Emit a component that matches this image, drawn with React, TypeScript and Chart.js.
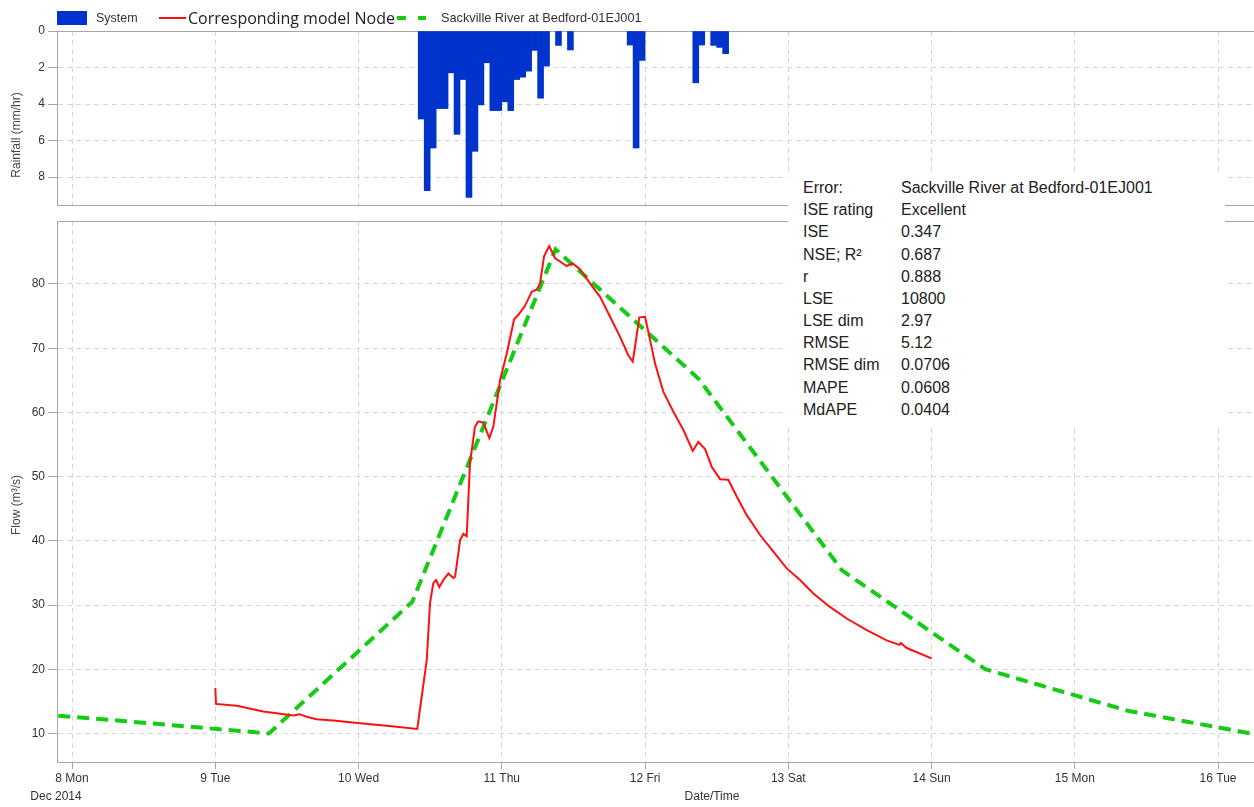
import React, { useEffect, useRef } from "react";
import { Chart, registerables } from "chart.js";

Chart.register(...registerables);

// ---- axis ticks ----
const dayTicks = [8, 9, 10, 11, 12, 13, 14, 15, 16];
const dayNames = ["Mon", "Tue", "Wed", "Thu", "Fri", "Sat", "Sun", "Mon", "Tue"];
const rainTicks = [0, 2, 4, 6, 8];
const flowTicks = [10, 20, 30, 40, 50, 60, 70, 80];

// ---- rainfall (hour index after 8 Dec 2014 00:00, mm/hr) ----
const rainHour = [58, 59, 60, 61, 62, 63, 64, 65, 66, 67, 68, 69, 70, 71, 72, 73, 74, 75, 76, 77, 78, 79, 81, 83, 93, 94, 95, 104, 105, 107, 108, 109];
const rainValue = [4.82, 8.75, 6.41, 4.25, 4.25, 2.29, 5.66, 2.66, 9.12, 6.59, 4.05, 1.74, 4.36, 4.36, 3.88, 4.36, 2.66, 2.53, 2.2, 1.06, 3.68, 1.92, 0.79, 1.04, 0.77, 6.41, 1.61, 2.84, 0.77, 0.79, 0.9, 1.24];

// ---- modelled flow (day of Dec 2014, m3/s) ----
const modelDay = [9.0, 9.005, 9.15, 9.335, 9.545, 9.587, 9.638, 9.708, 9.824, 10.01, 10.197, 10.41, 10.476, 10.499, 10.522, 10.541, 10.564, 10.592, 10.627, 10.662, 10.674, 10.709, 10.732, 10.755, 10.778, 10.813, 10.836, 10.871, 10.913, 10.941, 10.988, 11.035, 11.086, 11.116, 11.162, 11.209, 11.244, 11.267, 11.295, 11.331, 11.372, 11.407, 11.453, 11.495, 11.546, 11.616, 11.686, 11.756, 11.825, 11.883, 11.914, 11.937, 11.96, 12.0, 12.035, 12.07, 12.128, 12.198, 12.267, 12.333, 12.372, 12.419, 12.466, 12.524, 12.581, 12.64, 12.71, 12.803, 12.896, 12.989, 13.082, 13.175, 13.291, 13.408, 13.548, 13.687, 13.775, 13.785, 13.827, 14.0];
const modelFlow = [17.1, 14.6, 14.3, 13.4, 12.8, 13.0, 12.6, 12.2, 12.0, 11.6, 11.2, 10.7, 21.4, 30.3, 33.4, 33.9, 32.8, 33.9, 34.9, 34.2, 34.4, 40.1, 41.1, 40.7, 52.1, 57.8, 58.6, 58.4, 56.0, 57.8, 65.0, 69.2, 74.5, 75.2, 76.6, 78.8, 79.1, 80.1, 84.3, 85.9, 84.0, 83.5, 82.8, 83.2, 82.3, 80.1, 78.0, 74.9, 71.8, 68.9, 67.9, 71.3, 74.8, 74.9, 71.3, 67.6, 63.2, 60.1, 57.3, 54.0, 55.4, 54.3, 51.5, 49.6, 49.5, 46.9, 44.0, 40.9, 38.3, 35.7, 33.9, 31.8, 29.7, 27.9, 26.1, 24.5, 23.8, 24.1, 23.3, 21.7];

// ---- observed flow (day of Dec 2014, m3/s) ----
const obsDay = [7.375, 8.375, 9.375, 10.375, 11.375, 12.375, 13.375, 14.375, 15.375, 16.375];
const obsFlow = [13.7, 11.9, 10.0, 30.5, 85.4, 65.2, 35.4, 20.0, 13.5, 9.4];

// ---- error statistics ----
const errorLabels = ["Error:", "ISE rating", "ISE", "NSE; R\u00b2", "r", "LSE", "LSE dim", "RMSE", "RMSE dim", "MAPE", "MdAPE"];
const errorValues = ["Sackville River at Bedford-01EJ001", "Excellent", "0.347", "0.687", "0.888", "10800", "2.97", "5.12", "0.0706", "0.0608", "0.0404"];

const FONT = "'Liberation Sans', Arial, sans-serif";
const GRID = "#d6d6d6";
const AXIS = "#a6a6a6";
const TICKTXT = "#333333";
const X_MIN = 7.895;
const X_MAX = 16.251;

const topFrame = {
  id: "topFrame",
  beforeDatasetsDraw(chart: any) {
    const { ctx, chartArea } = chart;
    ctx.save();
    ctx.strokeStyle = AXIS;
    ctx.lineWidth = 1;
    ctx.beginPath();
    ctx.moveTo(chartArea.left, Math.round(chartArea.top) + 0.5);
    ctx.lineTo(chartArea.right, Math.round(chartArea.top) + 0.5);
    ctx.stroke();
    ctx.restore();
  },
};

export default function App() {
  const rainRef = useRef<HTMLCanvasElement>(null);
  const flowRef = useRef<HTMLCanvasElement>(null);

  useEffect(() => {
    const tickFont = { family: FONT, size: 12 };

    const rainChart = new Chart(rainRef.current as HTMLCanvasElement, {
      type: "bar",
      data: {
        datasets: [
          {
            label: "System",
            data: rainHour.map((h, i) => ({ x: 8 + (h + 0.5) / 24, y: rainValue[i] })),
            backgroundColor: "#0033cc",
            borderWidth: 0,
            barPercentage: 1,
            categoryPercentage: 1,
          },
        ],
      },
      options: {
        animation: false,
        responsive: false,
        layout: { padding: { top: 31, left: 0, right: 0, bottom: 0 } },
        plugins: { legend: { display: false }, tooltip: { enabled: false } },
        scales: {
          x: {
            type: "linear",
            min: X_MIN,
            max: X_MAX,
            offset: false,
            afterBuildTicks: (axis: any) => {
              axis.ticks = dayTicks.map((v) => ({ value: v }));
            },
            afterFit: (axis: any) => {
              axis.height = 15;
            },
            ticks: { display: false },
            grid: { color: GRID, drawTicks: false, offset: false },
            border: { color: AXIS, dash: [5, 4] },
          },
          y: {
            type: "linear",
            reverse: true,
            min: 0,
            max: 9.53,
            afterBuildTicks: (axis: any) => {
              axis.ticks = rainTicks.map((v) => ({ value: v }));
            },
            afterFit: (axis: any) => {
              axis.width = 57;
            },
            ticks: { font: tickFont, color: TICKTXT, padding: 3 },
            grid: { color: GRID, tickColor: AXIS, tickLength: 9 },
            border: { color: AXIS, dash: [5, 4] },
          },
        },
      },
      plugins: [topFrame],
    } as any);

    const flowChart = new Chart(flowRef.current as HTMLCanvasElement, {
      type: "line",
      data: {
        datasets: [
          {
            label: "Corresponding model Node",
            data: modelDay.map((d, i) => ({ x: d, y: modelFlow[i] })),
            borderColor: "#ff1010",
            borderWidth: 2,
            pointRadius: 0,
            tension: 0,
          },
          {
            label: "Sackville River at Bedford-01EJ001",
            data: obsDay.map((d, i) => ({ x: d, y: obsFlow[i] })),
            borderColor: "#14cc14",
            borderWidth: 4,
            borderDash: [12, 7],
            pointRadius: 0,
            tension: 0,
          },
        ],
      },
      options: {
        animation: false,
        responsive: false,
        layout: { padding: { top: 11, left: 0, right: 0, bottom: 0 } },
        plugins: { legend: { display: false }, tooltip: { enabled: false } },
        scales: {
          x: {
            type: "linear",
            min: X_MIN,
            max: X_MAX,
            afterBuildTicks: (axis: any) => {
              axis.ticks = dayTicks.map((v) => ({ value: v }));
            },
            afterFit: (axis: any) => {
              axis.height = 45;
            },
            ticks: {
              font: tickFont,
              color: TICKTXT,
              padding: 2,
              autoSkip: false,
              maxRotation: 0,
              callback: (_v: any, i: number) => `${dayTicks[i]} ${dayNames[i]}`,
            },
            grid: { color: GRID, tickColor: AXIS, tickLength: 7 },
            border: { color: AXIS, dash: [5, 4] },
          },
          y: {
            type: "linear",
            min: 5.55,
            max: 89.81,
            afterBuildTicks: (axis: any) => {
              axis.ticks = flowTicks.map((v) => ({ value: v }));
            },
            afterFit: (axis: any) => {
              axis.width = 57;
            },
            ticks: { font: tickFont, color: TICKTXT, padding: 3 },
            grid: { color: GRID, tickColor: AXIS, tickLength: 9 },
            border: { color: AXIS, dash: [5, 4] },
          },
        },
      },
      plugins: [topFrame],
    } as any);

    return () => {
      rainChart.destroy();
      flowChart.destroy();
    };
  }, []);

  const abs = (s: React.CSSProperties): React.CSSProperties => ({ position: "absolute", whiteSpace: "nowrap", ...s });

  return (
    <div style={{ position: "absolute", left: 0, top: 0, width: 1254, height: 807, background: "#fff", overflow: "hidden", fontFamily: FONT }}>
      <canvas ref={rainRef} width={1254} height={220} style={{ position: "absolute", left: 0, top: 0 }} />
      <canvas ref={flowRef} width={1254} height={597} style={{ position: "absolute", left: 0, top: 210 }} />

      {/* legend */}
      <div style={abs({ left: 57, top: 11, width: 30, height: 14, background: "#0033cc" })} />
      <div style={abs({ left: 96, top: 11, lineHeight: "14px", fontSize: 12.5, color: "#333" })}>System</div>
      <div style={abs({ left: 159, top: 17, width: 27, height: 2, background: "#ff1010" })} />
      <div style={abs({ left: 188, top: 7, lineHeight: "22px", fontSize: 16, color: "#222", fontFamily: "'Open Sans', sans-serif" })}>Corresponding model Node</div>
      <div style={abs({ left: 397, top: 16, width: 9, height: 4, background: "#14cc14" })} />
      <div style={abs({ left: 418, top: 16, width: 8, height: 4, background: "#14cc14" })} />
      <div style={abs({ left: 441, top: 11, lineHeight: "14px", fontSize: 12.75, color: "#333" })}>Sackville River at Bedford-01EJ001</div>

      {/* axis titles */}
      <div style={abs({ left: 16, top: 135, fontSize: 12, color: "#444", transform: "translate(-50%, -50%) rotate(-90deg)" })}>Rainfall (mm/hr)</div>
      <div style={abs({ left: 16, top: 505, fontSize: 12, color: "#444", transform: "translate(-50%, -50%) rotate(-90deg)" })}>Flow (m³/s)</div>
      <div style={abs({ left: 56, top: 796, fontSize: 12, color: "#333", transform: "translate(-50%, -50%)" })}>Dec 2014</div>
      <div style={abs({ left: 712, top: 796, fontSize: 12, color: "#333", transform: "translate(-50%, -50%)" })}>Date/Time</div>

      {/* error statistics box */}
      <div style={abs({ left: 788, top: 172, width: 437, height: 253, background: "#fff" })} />
      {errorLabels.map((lab, i) => (
        <React.Fragment key={lab}>
          <div style={abs({ left: 803, top: 177 + i * 22.17, lineHeight: "22px", fontSize: 16, color: "#222" })}>{lab}</div>
          <div style={abs({ left: 901, top: 177 + i * 22.17, lineHeight: "22px", fontSize: 16, color: "#222" })}>{errorValues[i]}</div>
        </React.Fragment>
      ))}
    </div>
  );
}
